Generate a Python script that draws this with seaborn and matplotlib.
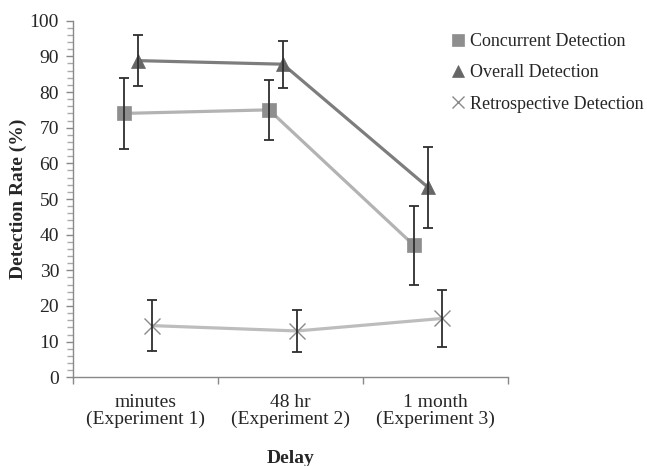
import numpy as np
import pandas as pd
import matplotlib
matplotlib.use("Agg")
import matplotlib.pyplot as plt
import seaborn as sns
from matplotlib.lines import Line2D
from matplotlib.ticker import MultipleLocator

delays = ["minutes\n(Experiment 1)", "48 hr\n(Experiment 2)", "1 month\n(Experiment 3)"]
concurrent = [74, 75, 37]
concurrent_err = [10, 8.5, 11]
overall = [88.8, 87.8, 53.3]
overall_err = [7.2, 6.6, 11.3]
retrospective = [14.5, 13, 16.5]
retrospective_err = [7.2, 6, 8.1]

sns.set_style("ticks")
plt.rcParams["font.family"] = ["Liberation Serif", "DejaVu Serif"]

fig = plt.figure(figsize=(6.47, 4.66), dpi=100)
ax = fig.add_axes([0.1128, 0.1903, 0.6722, 0.7653])

centers = np.arange(len(delays)) + 0.5
series = [
    ("Concurrent Detection", concurrent, concurrent_err, -0.148, "s", 9.5, "#b3b3b3", "#8e8e8e"),
    ("Overall Detection", overall, overall_err, -0.052, "^", 10, "#7d7d7d", "#666666"),
    ("Retrospective Detection", retrospective, retrospective_err, 0.045, "x", 11, "#bdbdbd", "#8a8a8a"),
]

handles = []
for name, vals, errs, off, mk, ms, lc, mc in series:
    df = pd.DataFrame({"x": centers + off, "y": vals})
    sns.lineplot(data=df, x="x", y="y", ax=ax, color=lc, linewidth=2.3,
                 marker=mk, markersize=ms, markerfacecolor=mc, markeredgecolor=mc,
                 markeredgewidth=1.0 if mk == "x" else 0.5, zorder=2)
    ax.errorbar(df["x"], df["y"], yerr=errs, fmt="none", ecolor="#2e2e2e",
                elinewidth=1.3, capsize=3.5, capthick=1.3, zorder=3)
    handles.append(Line2D([], [], linestyle="none", marker=mk, color=mc,
                          markersize=8 if mk != "x" else 9,
                          markeredgewidth=1.0 if mk == "x" else 0.5, label=name))

ax.set_xlim(0, 3)
ax.set_ylim(0, 100)
ax.yaxis.set_major_locator(MultipleLocator(10))
ax.yaxis.set_minor_locator(MultipleLocator(2))
ax.set_xticks([0, 1, 2, 3])
ax.set_xticklabels([])
ax.set_xticks(centers, minor=True)
ax.set_xticklabels(delays, minor=True, fontsize=14, linespacing=0.95)
ax.tick_params(axis="x", which="minor", length=0, pad=12)
ax.tick_params(axis="x", which="major", length=5, color="#888888", width=1)
ax.tick_params(axis="y", which="major", length=5, color="#888888", width=1, labelsize=14, pad=5)
ax.tick_params(axis="y", which="minor", length=4, color="#aaaaaa", width=1)

for s in ["top", "right"]:
    ax.spines[s].set_visible(False)
for s in ["left", "bottom"]:
    ax.spines[s].set_color("#888888")
    ax.spines[s].set_linewidth(1)

ax.set_xlabel("Delay", fontsize=14, fontweight="bold")
ax.set_ylabel("Detection Rate (%)", fontsize=14, fontweight="bold")
ax.xaxis.set_label_coords(0.5, -0.228)
ax.xaxis.label.set_va("center")
ax.yaxis.set_label_coords(-0.125, 0.5)
ax.yaxis.label.set_va("center")

fig.legend(handles=handles, loc="upper left", bbox_to_anchor=(0.687, 0.945),
           frameon=False, fontsize=13, handlelength=0.7, handletextpad=0.3,
           labelspacing=0.8, borderaxespad=0)

fig.savefig("out.png", dpi=100)
